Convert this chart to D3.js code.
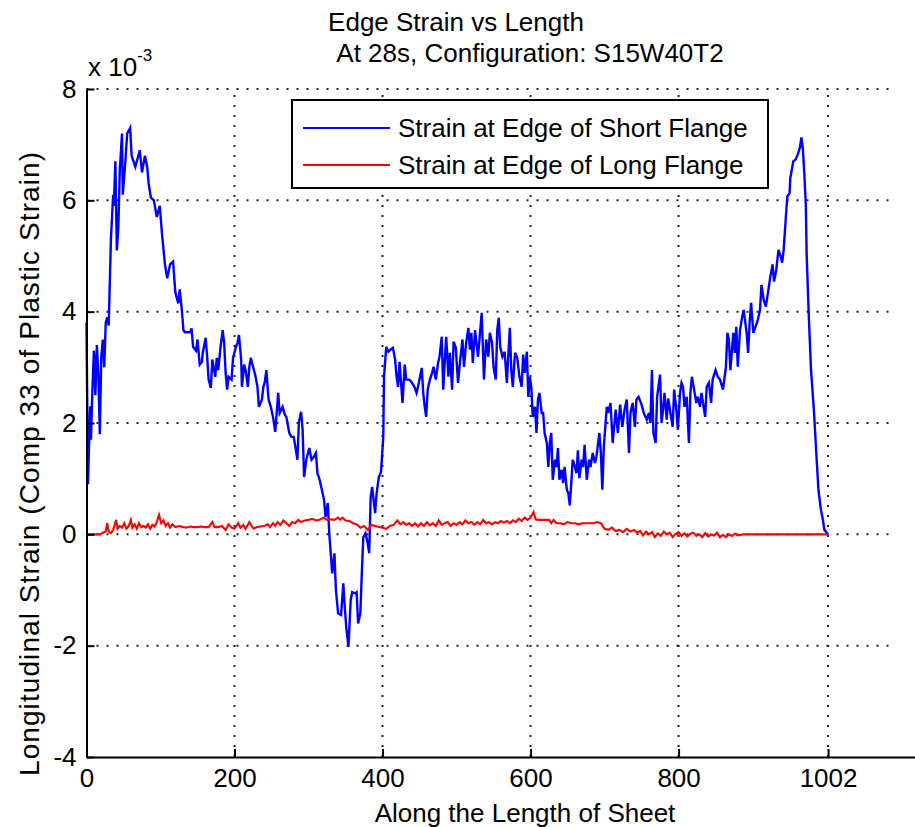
<!DOCTYPE html>
<html>
<head>
<meta charset="utf-8">
<script src="https://cdn.jsdelivr.net/npm/d3@7"></script>
<style>
  body { margin: 0; background: #fff; }
  svg text { font-family: "Liberation Sans", Arial, sans-serif; fill: #000; }
</style>
</head>
<body>
<div id="chart"></div>
<script>
// chart texts
const titleLines = ["Edge Strain vs Length", "At 28s, Configuration: S15W40T2"];
const xLabel = "Along the Length of Sheet";
const yLabel = "Longitudinal Strain (Comp 33 of Plastic Strain)";
const seriesNames = ["Strain at Edge of Short Flange", "Strain at Edge of Long Flange"];
const seriesColors = ["#0000ff", "#ff0000"];

// tick values
const xTicks = [0, 200, 400, 600, 800, 1002];
const yTicks = [-4, -2, 0, 2, 4, 6, 8];

// [position along sheet, strain x 10^-3]
const shortFlange = [
  [0,3.8],[2,0.9],[3,1.4],[5,2.3],[6,1.7],[8,2.6],[10,3.3],[12,2.5],[14,3.4],[16,2.9],[18,1.8],[20,3.2],
  [22,3.5],[24,3.0],[26,3.8],[28,3.9],[30,3.75],[33,5.3],[36,6.1],[37,5.9],[39,6.7],[41,5.1],[43,5.5],
  [45,6.55],[48,7.2],[49,6.1],[52,6.6],[55,7.2],[57,7.25],[59,7.3],[61,6.8],[66,6.6],[70,6.8],[72,6.9],
  [75,6.5],[79,6.8],[82,6.6],[84,6.3],[87,6.05],[91,6.0],[95,5.7],[99,5.9],[102,5.4],[106,4.85],[109,4.6],
  [113,4.85],[117,4.9],[120,4.35],[124,4.15],[126,4.4],[129,4.0],[131,3.67],[133,3.63],[140,3.63],[142,3.7],
  [144,3.37],[148,3.3],[150,3.5],[153,3.05],[156,3.1],[157,3.25],[161,3.53],[163,3.2],[165,2.78],[168,2.63],
  [170,3.14],[174,2.83],[176,3.17],[178,2.95],[181,3.35],[184,3.67],[186,3.44],[188,2.9],[190,2.6],[192,2.83],
  [196,2.78],[198,3.17],[202,3.37],[204,3.44],[206,3.58],[209,3.14],[210,2.65],[213,3.05],[215,2.95],[218,2.65],
  [220,3.01],[222,3.17],[225,3.01],[228,2.86],[231,2.65],[233,2.29],[237,2.42],[239,2.65],[241,2.74],[243,2.95],
  [246,2.42],[249,2.29],[252,2.11],[255,1.84],[257,2.18],[259,2.54],[261,2.18],[265,2.29],[268,2.15],[270,2.11],
  [274,1.82],[277,1.75],[280,1.75],[283,1.51],[285,1.34],[287,2.02],[290,2.2],[292,1.88],[294,1.03],[297,1.34],
  [301,1.55],[304,1.34],[307,1.39],[310,1.46],[312,1.1],[315,0.98],[318,0.8],[321,0.62],[323,0.31],[326,0.56],
  [328,0.02],[330,-0.34],[332,-0.7],[335,-0.34],[337,-1.0],[340,-1.42],[344,-1.45],[347,-0.88],[349,-1.31],
  [351,-1.67],[354,-2.02],[357,-1.18],[359,-1.04],[363,-1.06],[365,-1.04],[367,-1.6],[370,-1.42],[372,-0.7],
  [374,-0.05],[377,0.02],[380,-0.16],[382,-0.34],[384,0.67],[386,0.85],[390,0.38],[392,0.74],[395,1.03],
  [398,1.12],[401,1.75],[402,2.83],[405,3.37],[408,3.28],[411,3.32],[414,3.35],[417,3.14],[419,2.83],[421,2.65],
  [423,3.1],[427,2.36],[430,3.05],[432,2.78],[436,2.78],[439,2.74],[443,2.65],[446,2.54],[449,2.72],[453,2.99],
  [455,2.54],[457,2.29],[459,2.11],[461,2.6],[464,2.78],[467,2.9],[469,3.01],[472,2.78],[475,3.08],[477,3.19],
  [480,3.55],[482,2.6],[484,3.08],[486,3.55],[489,2.83],[491,3.26],[494,2.6],[496,3.46],[499,3.35],[502,2.72],
  [505,3.14],[508,3.5],[510,3.01],[513,3.44],[516,3.71],[518,3.32],[520,3.62],[522,3.08],[525,3.67],[529,3.19],
  [531,3.5],[534,3.98],[537,2.78],[540,3.5],[543,3.19],[545,3.62],[548,3.44],[550,3.01],[553,2.78],[555,3.67],
  [557,3.89],[559,3.37],[562,3.19],[565,3.28],[568,2.72],[570,3.23],[572,3.71],[574,2.95],[576,2.65],[579,3.26],
  [582,3.17],[585,2.83],[588,2.65],[590,3.23],[592,2.9],[595,3.28],[597,2.47],[599,2.83],[601,2.65],[603,2.11],
  [606,2.29],[608,1.82],[610,2.42],[612,2.54],[615,2.18],[617,2.18],[619,1.82],[622,1.64],[624,1.21],[626,1.64],
  [628,1.82],[630,0.98],[633,1.34],[635,1.21],[637,1.55],[639,0.98],[642,1.16],[644,0.92],[646,1.21],[649,0.8],
  [651,0.74],[653,0.52],[655,0.92],[657,1.34],[660,1.21],[662,1.1],[664,1.51],[666,1.01],[669,1.34],[671,1.21],
  [673,1.61],[676,0.98],[679,1.34],[681,1.21],[684,1.46],[687,1.28],[689,1.39],[693,1.82],[695,1.46],[697,0.8],
  [699,1.57],[703,2.29],[705,2.18],[708,2.36],[711,1.64],[715,2.24],[718,1.82],[721,2.33],[724,1.93],[727,2.24],
  [730,2.42],[733,1.46],[735,2.18],[738,2.36],[741,1.93],[743,2.42],[746,2.47],[750,2.33],[753,2.18],[757,2.06],
  [760,2.18],[762,2.0],[764,2.95],[766,1.82],[769,1.64],[771,2.47],[775,2.87],[777,2.0],[779,2.24],[781,2.54],
  [784,2.06],[786,2.44],[789,2.18],[792,1.93],[794,2.6],[797,2.24],[799,1.88],[802,2.54],[804,2.72],[806,2.65],
  [808,2.29],[811,2.47],[814,1.64],[816,2.54],[818,2.83],[821,2.6],[824,2.36],[826,2.47],[829,2.29],[831,2.54],
  [833,2.36],[836,2.11],[838,2.65],[841,2.72],[844,2.36],[846,2.78],[850,2.95],[853,2.83],[856,2.78],[860,2.6],
  [864,3.01],[866,3.62],[868,3.5],[870,2.95],[874,3.62],[876,3.26],[878,3.73],[880,3.01],[883,3.67],[886,3.91],
  [888,4.03],[892,3.62],[894,3.26],[896,3.8],[898,4.16],[901,3.62],[904,3.73],[907,3.85],[910,4.03],[912,4.48],
  [915,4.21],[918,4.09],[921,4.36],[924,4.63],[927,4.85],[929,4.54],[932,4.75],[935,5.11],[938,4.99],[940,4.88],
  [942,5.11],[945,5.71],[947,6.07],[950,6.13],[951,6.4],[955,6.7],[958,6.73],[961,6.82],[964,6.95],[966,7.13],
  [968,6.91],[970,6.46],[972,5.89],[973,5.06],[976,3.91],[979,2.95],[983,2.2],[986,1.48],[989,0.8],[992,0.47],
  [995,0.26],[997,0.08],[1002,0.0]
];

const longFlange = [
  [0,0],[10,0],[18,0],[22,0.03],[26,0.05],[28,0.2],[30,0.05],[33,0.02],[36,0.08],[40,0.26],[42,0.1],[45,0.15],
  [48,0.12],[51,0.2],[54,0.1],[57,0.15],[60,0.26],[62,0.12],[65,0.18],[68,0.1],[71,0.2],[74,0.13],[77,0.15],
  [80,0.12],[83,0.18],[86,0.1],[89,0.17],[92,0.14],[95,0.22],[98,0.35],[101,0.2],[104,0.25],[107,0.15],[110,0.2],
  [113,0.12],[116,0.18],[120,0.13],[125,0.15],[130,0.13],[135,0.12],[140,0.14],[145,0.13],[150,0.13],[155,0.14],
  [160,0.13],[165,0.13],[170,0.22],[173,0.13],[178,0.13],[183,0.15],[188,0.08],[192,0.18],[196,0.12],[200,0.1],
  [205,0.2],[208,0.12],[212,0.17],[215,0.1],[220,0.22],[223,0.15],[226,0.1],[230,0.13],[235,0.14],[240,0.15],
  [245,0.18],[248,0.13],[252,0.2],[255,0.15],[258,0.22],[262,0.17],[266,0.25],[270,0.2],[274,0.15],[278,0.22],
  [282,0.2],[286,0.26],[290,0.22],[295,0.25],[300,0.26],[305,0.28],[310,0.25],[315,0.26],[320,0.3],[325,0.26],
  [330,0.27],[335,0.26],[340,0.3],[343,0.26],[346,0.3],[350,0.25],[355,0.24],[360,0.2],[365,0.18],[370,0.12],
  [375,0.15],[380,0.08],[385,0.17],[390,0.15],[395,0.13],[400,0.12],[405,0.1],[410,0.15],[415,0.17],[420,0.25],
  [424,0.18],[428,0.22],[432,0.17],[436,0.2],[440,0.15],[444,0.2],[448,0.14],[452,0.2],[456,0.15],[460,0.22],
  [464,0.16],[468,0.2],[472,0.15],[476,0.25],[480,0.17],[484,0.2],[488,0.22],[492,0.15],[496,0.2],[500,0.17],
  [504,0.22],[508,0.18],[512,0.25],[516,0.2],[520,0.22],[524,0.17],[528,0.22],[532,0.18],[536,0.26],[540,0.2],
  [544,0.22],[548,0.18],[552,0.22],[556,0.2],[560,0.24],[564,0.21],[568,0.24],[572,0.2],[576,0.25],[580,0.22],
  [584,0.28],[588,0.24],[592,0.3],[596,0.26],[600,0.3],[604,0.4],[607,0.27],[610,0.26],[615,0.26],[620,0.26],
  [625,0.26],[628,0.2],[631,0.26],[635,0.2],[640,0.2],[645,0.18],[650,0.22],[655,0.2],[660,0.2],[665,0.18],
  [670,0.2],[675,0.2],[680,0.2],[685,0.2],[690,0.22],[695,0.2],[700,0.1],[705,0.08],[710,0.12],[715,0.06],
  [720,0.08],[725,0.04],[730,0.1],[735,0.05],[740,0.08],[744,0.03],[748,0.06],[752,-0.02],[756,0.05],[760,0.0],
  [764,0.04],[768,-0.05],[772,0.02],[776,-0.03],[780,0.05],[784,0.0],[788,0.03],[792,-0.05],[796,0.01],[800,0.04],
  [804,-0.03],[808,0.02],[812,-0.04],[816,0.01],[820,0.03],[824,-0.03],[828,0.0],[832,-0.05],[836,0.02],
  [840,-0.04],[844,0.0],[848,-0.02],[852,0.03],[856,-0.05],[860,-0.01],[864,-0.05],[868,0.0],[872,-0.03],
  [876,0.01],[880,-0.02],[884,-0.01],[888,0.0],[900,0.0],[1002,0]
];

const width = 915;
const height = 827;

const svg = d3.select("#chart")
    .append("svg")
    .attr("width", width)
    .attr("height", height);

// scales: the axis box runs past the right edge of the picture
const x = d3.scaleLinear().domain([0, 1120]).range([86.5, 915.4]);
const y = d3.scaleLinear().domain([-4, 8]).range([757, 89]);

// dotted grid
const grid = svg.append("g")
    .attr("stroke", "#222")
    .attr("stroke-width", 2)
    .attr("stroke-dasharray", "2,8");

grid.selectAll("line.h")
    .data(yTicks.filter(d => d > -4))
    .enter().append("line")
    .attr("class", "h")
    .attr("x1", x(0)).attr("x2", x(1090))
    .attr("y1", d => y(d)).attr("y2", d => y(d));

grid.selectAll("line.v")
    .data(xTicks.filter(d => d > 0))
    .enter().append("line")
    .attr("class", "v")
    .attr("x1", d => x(d)).attr("x2", d => x(d))
    .attr("y1", y(-4)).attr("y2", y(8));

// data lines
const line = d3.line()
    .x(d => x(d[0]))
    .y(d => y(d[1]));

[shortFlange, longFlange].forEach((series, i) => {
    svg.append("path")
        .datum(series)
        .attr("fill", "none")
        .attr("stroke", seriesColors[i])
        .attr("stroke-width", i === 0 ? 2.4 : 2.1)
        .attr("stroke-linejoin", "miter")
        .attr("d", line);
});

// axes, ticks pointing inward; plain hyphen for negatives
const fmt = d => String(d);

const xAxis = svg.append("g")
    .attr("transform", `translate(0,${y(-4)})`)
    .call(d3.axisBottom(x).tickValues(xTicks).tickFormat(fmt)
        .tickSizeInner(-8).tickSizeOuter(0).tickPadding(12));

const yAxis = svg.append("g")
    .attr("transform", `translate(${x(0)},0)`)
    .call(d3.axisLeft(y).tickValues(yTicks).tickFormat(fmt)
        .tickSizeInner(-8).tickSizeOuter(0).tickPadding(10));

[xAxis, yAxis].forEach(g => {
    g.select(".domain").attr("stroke", "#000").attr("stroke-width", 2);
    g.selectAll(".tick line").attr("stroke", "#000").attr("stroke-width", 2);
    g.selectAll(".tick text")
        .style("font-family", '"Liberation Sans", Arial, sans-serif')
        .style("font-size", "26px")
        .attr("fill", "#000");
});

// exponent label
const mult = svg.append("text")
    .attr("x", 88)
    .attr("y", 76)
    .attr("font-size", 26)
    .text("x 10");
mult.append("tspan")
    .attr("font-size", 17)
    .attr("dy", -15)
    .text("-3");

// titles
svg.append("text")
    .attr("x", 456).attr("y", 31)
    .attr("text-anchor", "middle")
    .attr("font-size", 26)
    .text(titleLines[0]);

svg.append("text")
    .attr("x", 530).attr("y", 62)
    .attr("text-anchor", "middle")
    .attr("font-size", 26)
    .text(titleLines[1]);

// axis labels
svg.append("text")
    .attr("x", 525).attr("y", 822)
    .attr("text-anchor", "middle")
    .attr("font-size", 26)
    .text(xLabel);

svg.append("text")
    .attr("transform", "translate(39,464) rotate(-90)")
    .attr("text-anchor", "middle")
    .attr("font-size", 28)
    .attr("textLength", 624)
    .attr("lengthAdjust", "spacing")
    .text(yLabel);

// legend
const legend = svg.append("g");
legend.append("rect")
    .attr("x", 292).attr("y", 100)
    .attr("width", 476).attr("height", 88)
    .attr("fill", "#fff")
    .attr("stroke", "#000")
    .attr("stroke-width", 2);

seriesNames.forEach((name, i) => {
    const ly = 128 + i * 37;
    legend.append("line")
        .attr("x1", 303).attr("x2", 390)
        .attr("y1", ly).attr("y2", ly)
        .attr("stroke", seriesColors[i])
        .attr("stroke-width", 2);
    legend.append("text")
        .attr("x", 398).attr("y", ly + 9)
        .attr("font-size", 26)
        .text(name);
});
</script>
</body>
</html>
